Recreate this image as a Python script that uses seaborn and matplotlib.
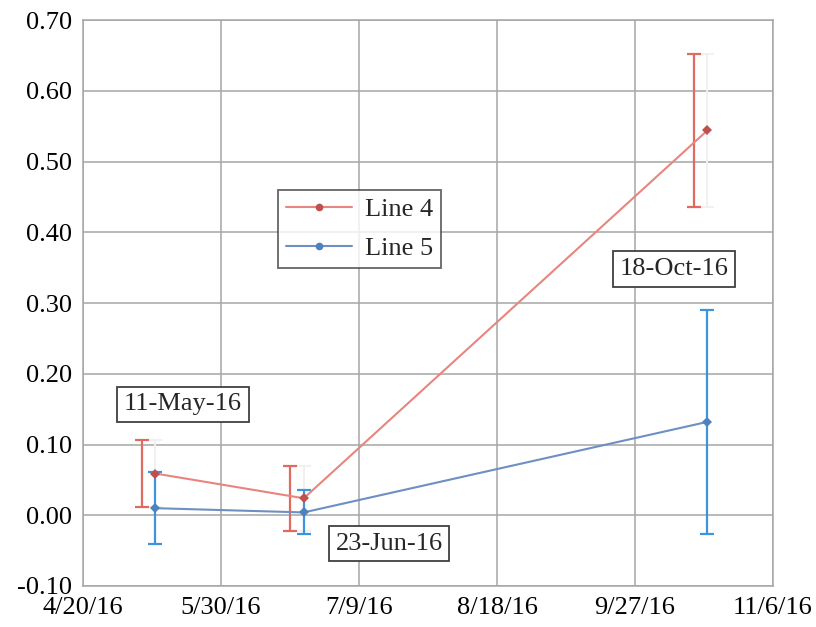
import matplotlib
matplotlib.use("Agg")
import matplotlib.pyplot as plt
import matplotlib.dates as mdates
from matplotlib.lines import Line2D
import seaborn as sns
import pandas as pd
import numpy as np

# Sampling dates and measured values
dates = ["2016-05-11", "2016-06-23", "2016-10-18"]
line4 = [0.059, 0.024, 0.544]
line5 = [0.010, 0.004, 0.132]
line4_err = [0.047, 0.046, 0.108]
line5_err = [0.051, 0.031, 0.158]
date_labels = ["11-May-16", "23-Jun-16", "18-Oct-16"]
tick_dates = ["2016-04-20", "2016-05-30", "2016-07-09", "2016-08-18", "2016-09-27", "2016-11-06"]

sns.set_theme(style="white")
plt.rcParams["font.family"] = ["Liberation Serif", "DejaVu Serif"]

d = pd.to_datetime(dates)
df = pd.DataFrame({
    "date": list(d) * 2,
    "value": line4 + line5,
    "series": ["Line 4"] * 3 + ["Line 5"] * 3,
})

fig = plt.figure(figsize=(8.16, 6.27), dpi=100)
ax = fig.add_axes([0.1017, 0.0654, 0.8455, 0.9026])

red_line = "#e8857f"
red_mark = "#c0504d"
blue_line = "#6d8fc2"
blue_mark = "#4f81bd"
red_err = "#de6a60"
blue_err = "#3d94dd"
fs = 19

dn = mdates.date2num(d)
shift = 4.0  # Line 4 error bars sit slightly left of the points

# Error bars
ax.errorbar(dn - shift, line4, yerr=line4_err, fmt="none", ecolor=red_err,
            elinewidth=1.6, capsize=5, capthick=1.6, zorder=3)
ax.errorbar(dn, line4, yerr=line4_err, fmt="none", ecolor="#f0f0f0",
            elinewidth=1.4, capsize=5, capthick=1.4, zorder=2.5)
ax.errorbar(dn, line5, yerr=line5_err, fmt="none", ecolor=blue_err,
            elinewidth=1.6, capsize=5, capthick=1.6, zorder=3)

sns.lineplot(data=df, x="date", y="value", hue="series",
             palette={"Line 4": red_line, "Line 5": blue_line},
             linewidth=1.5, marker="D", markersize=5.5,
             markeredgewidth=0, ax=ax, zorder=4, legend=False)
# markers a shade darker than the lines
for line, mc in zip(ax.get_lines()[-2:], [red_mark, blue_mark]):
    line.set_markerfacecolor(mc)
    line.set_markeredgecolor(mc)

# Axes limits and ticks
tk = mdates.date2num(pd.to_datetime(tick_dates))
ax.set_xlim(tk[0], tk[-1])
ax.set_xticks(tk)
ax.set_xticklabels([f"{t.month}/{t.day}/{t.strftime('%y')}" for t in pd.to_datetime(tick_dates)])
ax.set_ylim(-0.10, 0.70)
ax.set_yticks(np.arange(-0.10, 0.701, 0.10))
ax.yaxis.set_major_formatter(matplotlib.ticker.FormatStrFormatter("%.2f"))
ax.tick_params(axis="both", labelsize=fs, colors="black", length=0, pad=8)
ax.set_xlabel("")
ax.set_ylabel("")
ax.grid(True, color="#a6a6a6", linewidth=1.1)
ax.set_axisbelow(True)
for s in ax.spines.values():
    s.set_color("#a6a6a6")
    s.set_linewidth(1.1)

# Date annotation boxes
box = dict(boxstyle="square,pad=0.25", facecolor="white", edgecolor="#404040", linewidth=1.3)
label_pos = [(dn[0] + 8, 0.157), (dn[1] + 24.7, -0.040), (dn[2] - 9.6, 0.348)]
for (x, y), txt in zip(label_pos, date_labels):
    ax.text(x, y, txt, fontsize=fs, ha="center", va="center", bbox=box, zorder=6)

# Legend
handles = [
    Line2D([], [], color=red_line, marker="o", markersize=4.5, markerfacecolor=red_mark,
           markeredgecolor=red_mark, linewidth=1.5),
    Line2D([], [], color=blue_line, marker="o", markersize=4.5, markerfacecolor=blue_mark,
           markeredgecolor=blue_mark, linewidth=1.5),
]
leg = ax.legend(handles, ["Line 4", "Line 5"], loc="center", bbox_to_anchor=(0.401, 0.631),
                fontsize=fs, frameon=True, fancybox=False, handlelength=2.5,
                borderpad=0.3, labelspacing=0.6, handletextpad=0.5, borderaxespad=0)
leg.get_frame().set_edgecolor("#404040")
leg.get_frame().set_linewidth(1.3)

fig.savefig("out.png", dpi=100, facecolor="white")
